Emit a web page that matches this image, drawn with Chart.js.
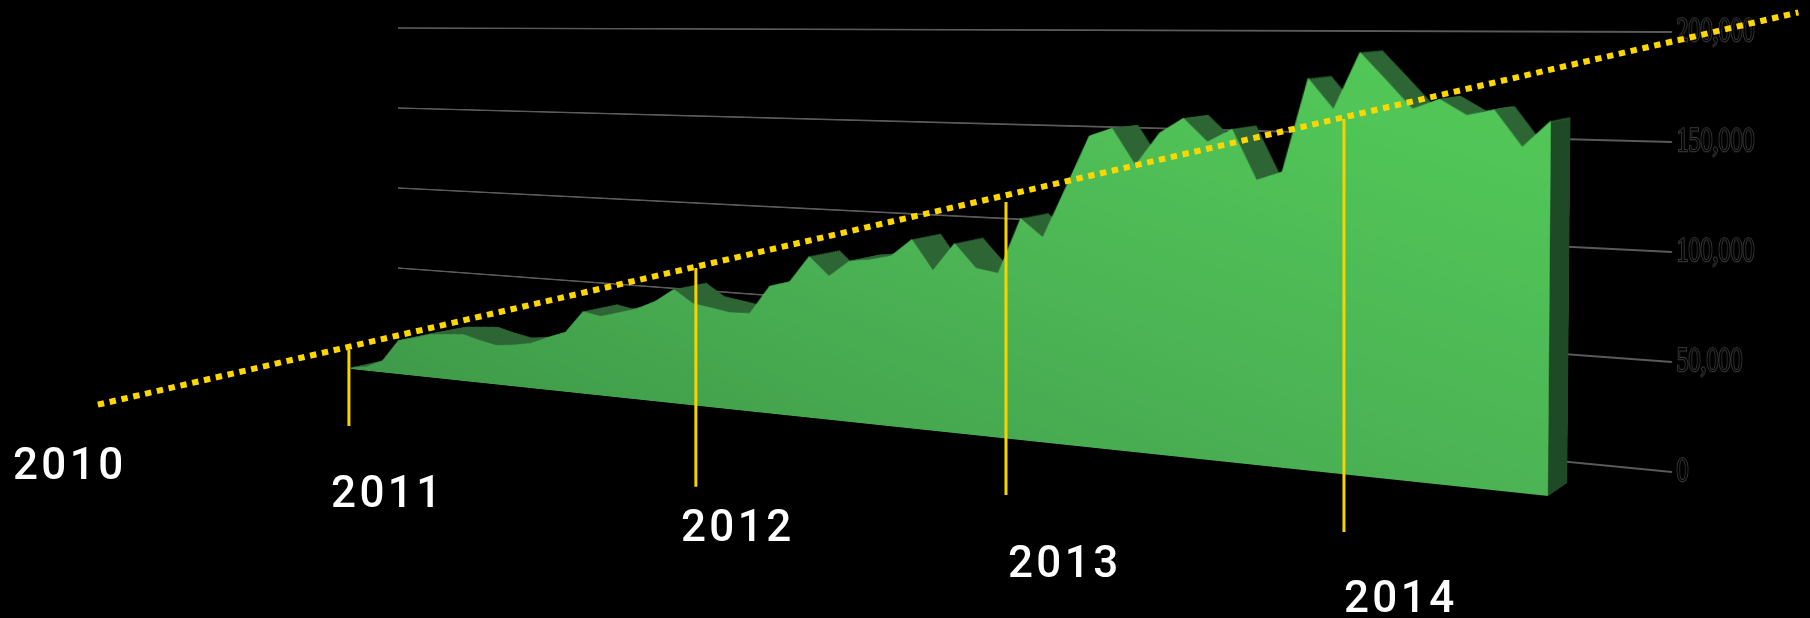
<!DOCTYPE html>
<html><head><meta charset="utf-8">
<script src="https://cdn.jsdelivr.net/npm/chart.js@4/dist/chart.umd.min.js"></script>
<style>
html,body{margin:0;padding:0;background:#000;width:1810px;height:618px;overflow:hidden}
canvas{position:absolute;left:0;top:0;display:block}
</style></head><body>
<canvas id="wall" width="1300" height="460"></canvas>
<canvas id="axis" width="220" height="618"></canvas>
<div id="sweep"></div>
<canvas id="side" width="120" height="470"></canvas>
<canvas id="front" width="1240" height="470"></canvas>
<canvas id="overlay" width="1810" height="618"></canvas>
<script>
// ---------- data ----------
const values = [1000,2500,7000,20000,22400,25400,26300,27100,24600,22600,23800,25600,29900,33700,46300,44400,47300,50300,55200,62600,55700,54000,52300,52700,68000,70900,85400,75600,84200,85600,88200,97500,82200,96700,84700,82900,111100,102300,127600,153300,157500,139900,155800,163300,152200,158700,134900,139100,183500,169300,195800,183100,170100,174800,167800,170400,154200,166100];
const tickValues = [0,50000,100000,150000,200000];
const yearLabels = ['2010','2011','2012','2013','2014'];
const yearLabelX = [2009.993,2010.952,2012.007,2012.993,2014.006];
const yearLabelY = [-3200,-15900,-31400,-47700,-63600];
const yearLineX = [2011,2012.046,2012.981,2014];
const yearLineTop = [55500,92700,122700,160500];
const yearLineBottom = [20900,-6700,-10500,-27300];
const trendX = [2010.243,2015.37];
const trendY = [30600,208900];
const months = values.map((_,i)=>i);

// ---------- layout: where each plane's plot rectangle lands on the page (TL,TR,BR,BL) ----------
const planes = {
  wall:  [[398,28],[1672,32],[1672,472],[398,348]],
  rear:  [[389,36],[1571,42],[1567,483],[388,361]],
  side:  [[1551.6,44],[1571,42],[1567,483],[1548,496]],
  front: [[352.5,36],[1551.6,44],[1548,496],[351,369]]
};
const Y_MAX = 200000, Y_PAGE_MIN = -66364, Y_PAGE_MAX = 214545;
const SWEEP_STEPS = 16, TICK_SQUEEZE = 0.75;

function solveHomography(src,dst){
  const A=[],b=[];
  for(let i=0;i<4;i++){
    const [x,y]=src[i],[u,v]=dst[i];
    A.push([x,y,1,0,0,0,-u*x,-u*y]);b.push(u);
    A.push([0,0,0,x,y,1,-v*x,-v*y]);b.push(v);
  }
  for(let c=0;c<8;c++){
    let p=c;for(let r=c+1;r<8;r++)if(Math.abs(A[r][c])>Math.abs(A[p][c]))p=r;
    [A[c],A[p]]=[A[p],A[c]];[b[c],b[p]]=[b[p],b[c]];
    for(let r=0;r<8;r++){ if(r===c)continue;
      const f=A[r][c]/A[c][c];
      for(let k=c;k<8;k++)A[r][k]-=f*A[c][k];
      b[r]-=f*b[c];
    }
  }
  return b.map((v,i)=>v/A[i][i]);
}
function project(chart,quad){
  const a=chart.chartArea;
  const src=[[a.left,a.top],[a.right,a.top],[a.right,a.bottom],[a.left,a.bottom]];
  const h=solveHomography(src,quad);
  const el=chart.canvas;
  el.style.transformOrigin='0 0';
  el.style.transform=`matrix3d(${h[0]},${h[3]},0,${h[6]},${h[1]},${h[4]},0,${h[7]},0,0,1,0,${h[2]},${h[5]},0,1)`;
}
const hiddenScales = {
  x:{display:false},
  y:{display:false,min:0,max:Y_MAX}
};
const base = {
  responsive:false,animation:false,devicePixelRatio:2,
  layout:{padding:10},
  plugins:{legend:{display:false},tooltip:{enabled:false}},
  events:[]
};
function frontGradient(ctx){
  const a=ctx.chart.chartArea; if(!a) return '#4ab356';
  const W=a.right-a.left,H=a.bottom-a.top,n=Math.hypot(W,H);
  const cx=(a.left+a.right)/2,cy=(a.top+a.bottom)/2,dx=H/n,dy=-W/n,l=W*H/n;
  const g=ctx.chart.ctx.createLinearGradient(cx-dx*l,cy-dy*l,cx+dx*l,cy+dy*l);
  g.addColorStop(0,'#3f9a49');
  g.addColorStop(0.5,'#4cb455');
  g.addColorStop(0.85,'#51c557');
  g.addColorStop(1,'#53ca5a');
  return g;
}
function areaChart(el,labels,data,color,dpr){
  return new Chart(el,{
    type:'line',
    data:{labels,datasets:[{data,fill:'origin',backgroundColor:color,borderWidth:0,pointRadius:0,tension:0}]},
    options:{...base,devicePixelRatio:dpr||2,scales:hiddenScales}
  });
}

// back wall: only the gridlines, on the chart's own value axis
const wall=new Chart(document.getElementById('wall'),{
  type:'line',
  data:{labels:months,datasets:[{data:[],pointRadius:0}]},
  options:{...base,scales:{
    x:{display:false},
    y:{min:0,max:Y_MAX,position:'right',
       afterBuildTicks:ax=>{ax.ticks=tickValues.map(v=>({value:v}))},
       grid:{color:'#5a5a5a',lineWidth:2,drawTicks:false},border:{display:false},
       ticks:{display:false}}
  }}
});
project(wall,planes.wall);

// value axis labels: flat, and squeezed sideways like the reference lettering
const axis=new Chart(document.getElementById('axis'),{
  type:'line',
  data:{labels:months,datasets:[{data:[],pointRadius:0}]},
  options:{responsive:false,animation:false,devicePixelRatio:2,events:[],
    layout:{padding:0,autoPadding:false},
    plugins:{legend:{display:false},tooltip:{enabled:false}},
    scales:{
      x:{display:false},
      y:{position:'right',min:Y_PAGE_MIN,max:Y_PAGE_MAX,
         afterFit:s=>{s.width=130},
         afterBuildTicks:ax=>{ax.ticks=tickValues.map(v=>({value:v}))},
         grid:{display:false,drawTicks:false},border:{display:false},
         ticks:{padding:6,color:'#000',textStrokeColor:'#4c4c4c',textStrokeWidth:1.6,
                font:{family:"'Liberation Sans Narrow'",size:32},
                callback:v=>v.toLocaleString('en-US')}}
    }
  }
});
{
  const w=axis.chartArea.right-axis.chartArea.left;
  project(axis,[[1672-w*TICK_SQUEEZE,0],[1672,0],[1672,618],[1672-w*TICK_SQUEEZE,618]]);
}

// the dark extruded top: the same profile swept from the rear plane towards the front plane
const sweepHost=document.getElementById('sweep');
for(let k=SWEEP_STEPS;k>=1;k--){
  const f=k/SWEEP_STEPS;
  const quad=planes.front.map((p,i)=>[p[0]+(planes.rear[i][0]-p[0])*f,p[1]+(planes.rear[i][1]-p[1])*f]);
  const el=document.createElement('canvas');
  el.width=1240;el.height=470;
  sweepHost.appendChild(el);
  project(areaChart(el,months,values,'#2d6534',1),quad);
}
const last=values[values.length-1];
const side=areaChart(document.getElementById('side'),['front','back'],[last,last],'#1e4a26');
project(side,planes.side);
const front=areaChart(document.getElementById('front'),months,values,frontGradient);
project(front,planes.front);

// flat overlay: year markers, year labels, trend
const yearText={
  id:'yearText',
  afterDatasetsDraw(c){
    const g=c.ctx;g.save();
    g.font='500 44px Roboto';g.fillStyle='#fff';g.textAlign='left';g.textBaseline='alphabetic';
    g.letterSpacing='3.4px';
    yearLabels.forEach((t,i)=>g.fillText(t,c.scales.x.getPixelForValue(yearLabelX[i])-2,c.scales.y.getPixelForValue(yearLabelY[i])));
    g.restore();
  }
};
const yellow='#f7d400';
const yearLines=yearLineX.map((x,i)=>({
  type:'scatter',showLine:true,clip:false,pointRadius:0,borderColor:yellow,borderWidth:3,
  data:[{x,y:yearLineTop[i]},{x,y:yearLineBottom[i]}]
}));
const trend={type:'scatter',showLine:true,clip:false,pointRadius:0,borderColor:'#ffd700',borderWidth:6,borderDash:[6.4,5.7],
  data:[{x:trendX[0],y:trendY[0]},{x:trendX[1],y:trendY[1]}]};
new Chart(document.getElementById('overlay'),{
  type:'scatter',
  data:{datasets:[...yearLines,trend]},
  plugins:[yearText],
  options:{
    responsive:false,animation:false,events:[],
    layout:{padding:{left:0,top:0,bottom:0,right:138},autoPadding:false},
    plugins:{legend:{display:false},tooltip:{enabled:false}},
    scales:{
      x:{type:'linear',display:false,min:2009.948,max:2014.989},
      y:{type:'linear',display:false,min:Y_PAGE_MIN,max:Y_PAGE_MAX}
    }
  }
});
</script>
</body></html>
